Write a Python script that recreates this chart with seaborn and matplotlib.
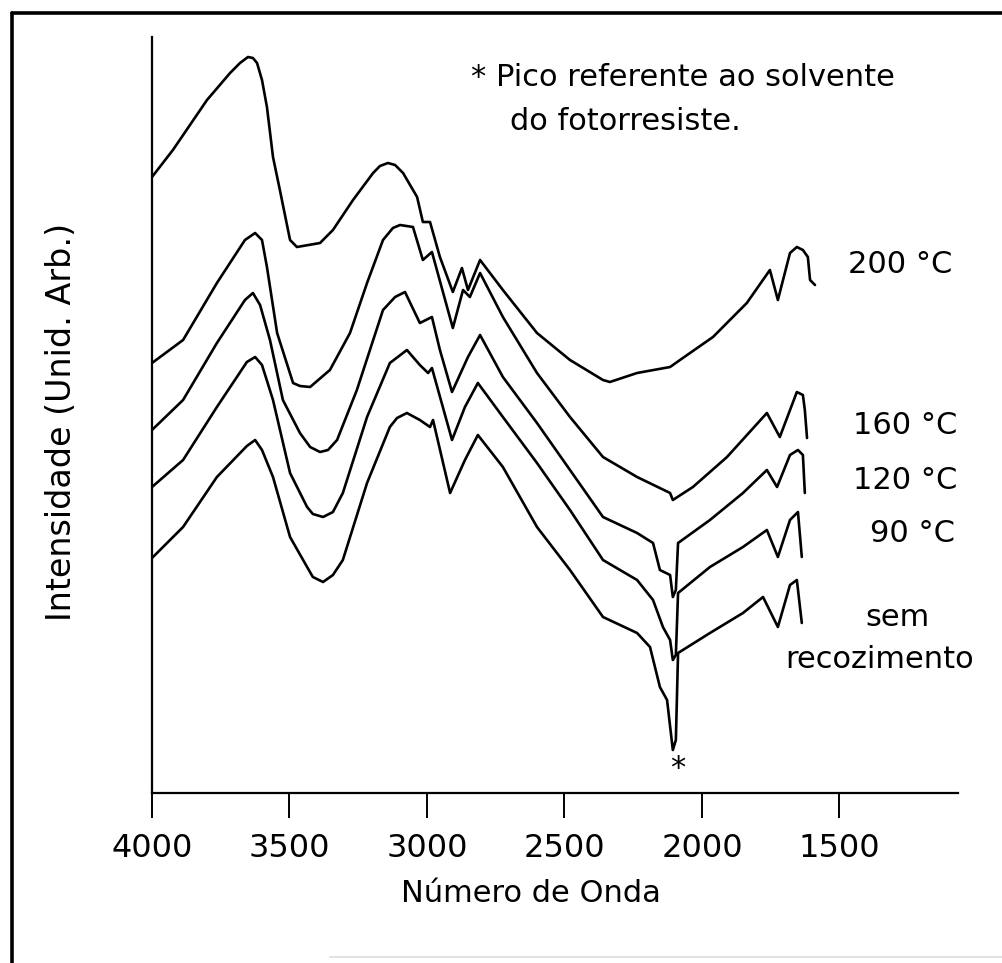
import numpy as np
import pandas as pd
import matplotlib
matplotlib.use("Agg")
import matplotlib.pyplot as plt
from matplotlib.lines import Line2D
import seaborn as sns

# FTIR spectra of the photoresist film after different bake temperatures
# (wavenumber in cm^-1, intensity in arbitrary units, curves offset vertically)
wn_200 = [4000, 3924, 3800, 3716, 3680, 3651, 3633, 3618, 3600, 3582, 3560, 3535, 3498,
          3473, 3389, 3342, 3269, 3196, 3171, 3142, 3116, 3087, 3036, 3015, 2989, 2953,
          2906, 2873, 2851, 2807, 2724, 2600, 2480, 2360, 2335, 2236, 2116, 2080, 1960,
          1837, 1753, 1724, 1680, 1655, 1633, 1615, 1607, 1589]
int_200 = [61.6, 64.3, 69.3, 72.0, 73.0, 73.6, 73.5, 73.0, 71.3, 68.6, 63.6, 60.3, 55.3,
           54.6, 55.0, 56.3, 59.3, 62.0, 62.7, 63.0, 62.8, 62.0, 59.6, 57.1, 57.1, 53.6,
           50.1, 52.5, 50.3, 53.3, 50.3, 46.0, 43.3, 41.3, 41.1, 42.0, 42.6, 43.3, 45.6,
           49.0, 52.3, 49.3, 54.0, 54.6, 54.3, 53.6, 51.3, 50.8]

wn_160 = [4000, 3887, 3764, 3662, 3625, 3600, 3582, 3545, 3487, 3462, 3425, 3353, 3280,
          3218, 3160, 3124, 3098, 3051, 3015, 2982, 2906, 2869, 2844, 2807, 2724, 2600,
          2480, 2360, 2236, 2116, 2106, 2033, 1909, 1764, 1717, 1655, 1633, 1626, 1618]
int_160 = [43.0, 45.3, 51.0, 55.3, 56.0, 55.3, 52.6, 46.0, 41.0, 40.7, 40.6, 42.3, 46.0,
           51.0, 55.3, 56.5, 56.8, 56.6, 53.3, 54.1, 46.5, 50.3, 49.6, 52.0, 47.6, 42.0,
           37.6, 33.6, 31.6, 30.0, 29.3, 30.6, 33.6, 38.0, 35.6, 40.1, 39.8, 38.3, 35.5]

wn_120 = [4000, 3887, 3764, 3662, 3633, 3607, 3571, 3524, 3462, 3425, 3389, 3360, 3327,
          3255, 3160, 3116, 3080, 3026, 2982, 2953, 2909, 2851, 2807, 2724, 2600, 2480,
          2360, 2236, 2178, 2153, 2116, 2106, 2095, 2087, 1971, 1851, 1764, 1727, 1680,
          1651, 1633, 1626]
int_120 = [36.3, 39.3, 45.0, 49.3, 50.0, 48.8, 45.3, 39.3, 36.0, 34.6, 34.1, 34.3, 35.3,
           40.3, 48.3, 49.6, 50.1, 47.0, 47.6, 44.3, 40.1, 43.6, 45.8, 41.6, 37.0, 32.3,
           27.6, 26.0, 25.0, 22.3, 21.8, 19.6, 20.3, 25.0, 27.3, 30.0, 32.3, 30.6, 33.8,
           34.3, 33.8, 30.0]

wn_90 = [4000, 3887, 3764, 3655, 3625, 3600, 3560, 3498, 3436, 3415, 3378, 3342, 3306,
         3218, 3135, 3073, 3026, 2996, 2982, 2909, 2862, 2815, 2724, 2600, 2480, 2360,
         2236, 2178, 2142, 2116, 2106, 2095, 2087, 1971, 1851, 1764, 1724, 1680, 1651, 1637]
int_90 = [30.6, 33.3, 38.6, 43.1, 43.6, 42.8, 39.3, 32.0, 28.6, 27.9, 27.6, 28.1, 30.0,
          37.6, 43.0, 44.3, 42.8, 42.0, 42.5, 35.3, 38.6, 41.0, 37.6, 33.0, 28.3, 23.3,
          21.3, 19.3, 16.6, 15.3, 13.3, 13.8, 20.0, 22.6, 24.6, 26.3, 23.6, 27.3, 28.1, 23.6]

wn_sem = [4000, 3887, 3764, 3655, 3625, 3600, 3560, 3498, 3436, 3415, 3378, 3342, 3306,
          3218, 3135, 3109, 3073, 3026, 2989, 2978, 2916, 2862, 2815, 2724, 2600, 2480,
          2360, 2236, 2189, 2153, 2127, 2106, 2095, 2087, 1971, 1851, 1778, 1724, 1680,
          1655, 1637]
int_sem = [23.5, 26.6, 31.6, 34.7, 35.3, 34.3, 31.6, 25.6, 22.6, 21.6, 21.1, 21.8, 23.3,
           31.0, 36.6, 37.5, 38.0, 37.3, 36.6, 37.3, 30.0, 33.3, 35.8, 32.6, 26.6, 22.3,
           17.6, 16.0, 14.6, 10.6, 9.3, 4.3, 5.3, 14.0, 16.0, 18.0, 19.6, 16.6, 20.8,
           21.3, 17.0]

series_names = ["200 °C", "160 °C", "120 °C", "90 °C", "sem recozimento"]
x_ticks = [4000, 3500, 3000, 2500, 2000, 1500]

frames = []
for name, xs, ys in zip(series_names,
                        [wn_200, wn_160, wn_120, wn_90, wn_sem],
                        [int_200, int_160, int_120, int_90, int_sem]):
    frames.append(pd.DataFrame({"wn": xs, "I": ys, "amostra": name}))
data = pd.concat(frames, ignore_index=True)

sns.set_style("white")
plt.rcParams["font.family"] = ["DejaVu Sans"]
plt.rcParams["text.color"] = "black"
plt.rcParams["axes.labelcolor"] = "black"
plt.rcParams["xtick.color"] = "black"

W, H = 1003, 963
fig = plt.figure(figsize=(W / 100, H / 100), dpi=100)
ax = fig.add_axes([152 / W, (H - 793) / H, (958 - 152) / W, (793 - 37) / H])

sns.lineplot(data=data, x="wn", y="I", hue="amostra", units="amostra",
             estimator=None, sort=False, palette=["black"] * 5,
             linewidth=1.9, legend=False, ax=ax)

ax.set_xlim(4000, 1069)
ax.set_ylim(0, 75.6)
ax.set_xticks(x_ticks)
ax.set_xticklabels([str(t) for t in x_ticks], fontsize=23)
ax.set_yticks([])
ax.tick_params(axis="x", direction="out", length=18, width=1.4, pad=11,
               color="black", bottom=True)
for side in ("top", "right"):
    ax.spines[side].set_visible(False)
for side in ("left", "bottom"):
    ax.spines[side].set_color("black")
    ax.spines[side].set_linewidth(1.6)

ax.set_xlabel("Número de Onda", fontsize=22)
ax.xaxis.set_label_coords((531 - 152) / (958 - 152), -(893 - 793) / (793 - 37))
ax.xaxis.label.set_va("center")
ax.set_ylabel("Intensidade (Unid. Arb.)", fontsize=24)
ax.yaxis.set_label_coords(-(152 - 62) / (958 - 152), (793 - 422) / (793 - 37))
ax.yaxis.label.set_va("center")

# mark of the solvent peak
ax.text(2087, 2.5, "*", ha="center", va="center", fontsize=22)

def ftext(px, py, s, **kw):
    fig.text(px / W, 1 - py / H, s, va="center", **kw)

ftext(471, 77, "* Pico referente ao solvente", fontsize=22)
ftext(510, 122, "do fotorresiste.", fontsize=22)
ftext(848, 264, "200 °C", fontsize=22)
ftext(853, 425, "160 °C", fontsize=22)
ftext(853, 480, "120 °C", fontsize=22)
ftext(870, 534, "90 °C", fontsize=22)
ftext(865, 617, "sem", fontsize=22)
ftext(785, 660, "recozimento", fontsize=22)

# outer frame
fig.add_artist(Line2D([12 / W, 1.0], [1 - 13 / H, 1 - 13 / H], color="black", lw=2.6))
fig.add_artist(Line2D([12 / W, 12 / W], [0, 1 - 13 / H], color="black", lw=2.6))
fig.add_artist(Line2D([330 / W, 1.0], [1 - 957 / H, 1 - 957 / H], color="#dddddd", lw=1.2))

fig.savefig("out.png", dpi=100, facecolor="white")
